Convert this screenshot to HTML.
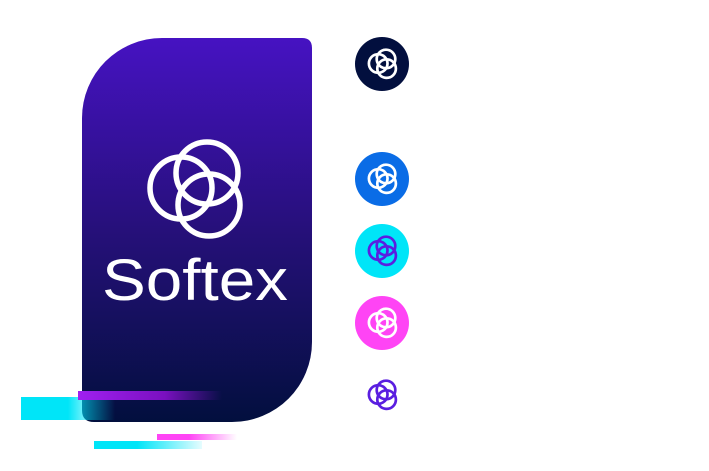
<!DOCTYPE html>
<html><head><style>
html,body{margin:0;padding:0;background:#fff;width:709px;height:471px;overflow:hidden}
</style></head><body>
<svg width="709" height="471" viewBox="0 0 709 471" xmlns="http://www.w3.org/2000/svg">
<defs>
<linearGradient id="card" x1="0" y1="0" x2="0" y2="1">
<stop offset="0" stop-color="#4612c2"/><stop offset="0.5" stop-color="#26107a"/><stop offset="1" stop-color="#020f3e"/>
</linearGradient>
<linearGradient id="pb" x1="0" x2="1"><stop offset="0" stop-color="#a020f0"/><stop offset="0.6" stop-color="#7a10c0"/><stop offset="1" stop-color="#7a10c0" stop-opacity="0"/></linearGradient>
<linearGradient id="cb" x1="0" x2="1"><stop offset="0" stop-color="#00e5f8"/><stop offset="0.5" stop-color="#00e5f8"/><stop offset="0.65" stop-color="#00e5f8" stop-opacity="0.6"/><stop offset="1" stop-color="#00e5f8" stop-opacity="0"/></linearGradient>
<linearGradient id="kb" x1="0" x2="1"><stop offset="0" stop-color="#ff44f5"/><stop offset="0.4" stop-color="#ff44f5"/><stop offset="1" stop-color="#ff44f5" stop-opacity="0"/></linearGradient>
<linearGradient id="cb2" x1="0" x2="1"><stop offset="0" stop-color="#00e5f8"/><stop offset="0.4" stop-color="#00e5f8"/><stop offset="1" stop-color="#00e5f8" stop-opacity="0.1"/></linearGradient>
<g id="logo" fill="none">
<circle cx="-26" cy="-15" r="31"/><circle cx="0" cy="-30" r="31"/><circle cx="2" cy="2" r="31"/>
</g>
</defs>
<path d="M82 118 A80 80 0 0 1 162 38 L302 38 Q312 38 312 48 L312 342 A80 80 0 0 1 232 422 L94 422 Q82 422 82 410 Z" fill="url(#card)"/>
<rect x="21" y="397" width="94" height="23" fill="url(#cb)"/>
<g transform="translate(207,203)" stroke="#fff" stroke-width="5.5"><use href="#logo"/></g>
<text x="102" y="300" fill="#fff" font-family="Liberation Sans, sans-serif" font-size="58" textLength="186" lengthAdjust="spacingAndGlyphs">Softex</text>
<rect x="78" y="391" width="144" height="9" fill="url(#pb)"/>
<rect x="157" y="434" width="80" height="6" fill="url(#kb)"/>
<rect x="94" y="441" width="108" height="8" fill="url(#cb2)"/>
<circle cx="382" cy="64" r="27" fill="#020f3e"/>
<circle cx="382" cy="179" r="27" fill="#0a6ce6"/>
<circle cx="382" cy="251" r="27" fill="#00e5f8"/>
<circle cx="382" cy="323" r="27" fill="#ff44f5"/>
<g transform="translate(386,68) scale(0.3)" stroke="#fff" stroke-width="9"><use href="#logo"/></g>
<g transform="translate(386,183) scale(0.3)" stroke="#fff" stroke-width="9"><use href="#logo"/></g>
<g transform="translate(386,255) scale(0.3)" stroke="#5a1ee0" stroke-width="9"><use href="#logo"/></g>
<g transform="translate(386,327) scale(0.3)" stroke="#fff" stroke-width="9"><use href="#logo"/></g>
<g transform="translate(386,399) scale(0.3)" stroke="#5a1ee0" stroke-width="9"><use href="#logo"/></g>
</svg>
</body></html>
